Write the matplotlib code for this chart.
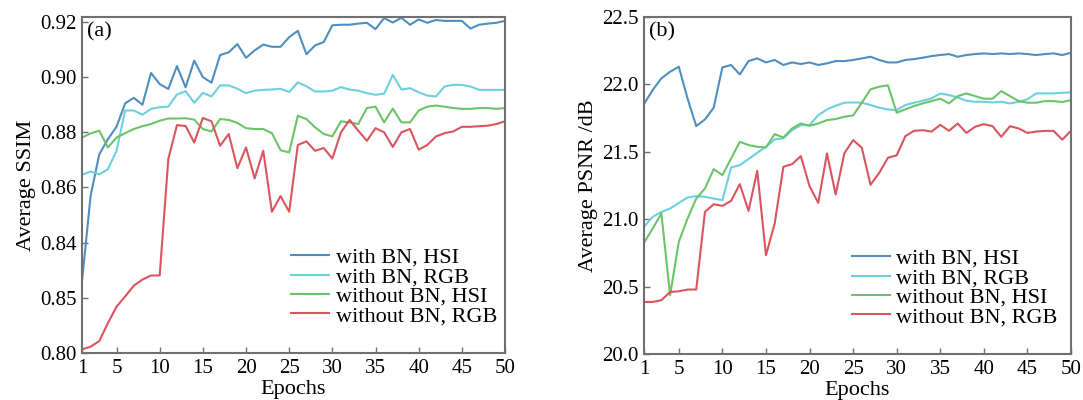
#!/usr/bin/env python3
# coding: utf-8
"""SSIM / PSNR 随 epoch 变化的对比图（有无 BN，HSI / RGB）"""

import matplotlib
matplotlib.use('Agg')
import matplotlib.pyplot as plt
import numpy as np

plt.rcParams['font.family'] = ['Liberation Serif', 'DejaVu Serif']

epochs = np.arange(1, 51)
labels = ['with BN, HSI', 'with BN, RGB', 'without BN, HSI', 'without BN, RGB']
colors = ['#4f8fc0', '#6dd0dd', '#6cc46a', '#da5560']

# (a) Average SSIM
ssim_bn_hsi = [0.826, 0.857, 0.872, 0.8775, 0.882, 0.8905, 0.8925, 0.890, 0.9015, 0.8975,
               0.8957, 0.904, 0.8963, 0.906, 0.900, 0.898, 0.908, 0.909, 0.912, 0.907,
               0.9097, 0.9118, 0.911, 0.911, 0.9145, 0.9168, 0.9083, 0.9115, 0.9127, 0.9188,
               0.919, 0.919, 0.9194, 0.9197, 0.9174, 0.9214, 0.9198, 0.9215, 0.919, 0.9209,
               0.9197, 0.9207, 0.9204, 0.9204, 0.9204, 0.9176, 0.919, 0.9194, 0.9197, 0.9204]
ssim_bn_rgb = [0.8646, 0.8658, 0.8648, 0.8666, 0.8733, 0.8879, 0.8879, 0.8864, 0.8885, 0.8891,
               0.8893, 0.8937, 0.8949, 0.8907, 0.8943, 0.893, 0.897, 0.897, 0.8958, 0.8942,
               0.8951, 0.8954, 0.8955, 0.8958, 0.8946, 0.8981, 0.8967, 0.8948, 0.8948, 0.8951,
               0.8964, 0.8955, 0.8951, 0.8942, 0.8936, 0.894, 0.9008, 0.8955, 0.896, 0.8945,
               0.8933, 0.893, 0.8966, 0.8972, 0.8972, 0.8966, 0.8954, 0.8954, 0.8954, 0.8954]
ssim_nobn_hsi = [0.8781, 0.8796, 0.8806, 0.8745, 0.8781, 0.8797, 0.8812, 0.8822, 0.883, 0.8842,
                 0.885, 0.885, 0.8851, 0.8846, 0.8812, 0.8803, 0.8848, 0.8845, 0.8834, 0.8815,
                 0.8812, 0.8812, 0.8797, 0.8735, 0.8727, 0.886, 0.8848, 0.8818, 0.8794, 0.8785,
                 0.884, 0.8836, 0.883, 0.8888, 0.8893, 0.8836, 0.8886, 0.8836, 0.8836, 0.8879,
                 0.8893, 0.8897, 0.8893, 0.8888, 0.8885, 0.8885, 0.8888, 0.8888, 0.8885, 0.8888]
ssim_nobn_rgb = [0.8013, 0.8023, 0.8043, 0.8108, 0.8168, 0.8205, 0.8244, 0.8266, 0.8281, 0.8281,
                 0.8703, 0.8826, 0.8823, 0.8763, 0.8852, 0.884, 0.8751, 0.8794, 0.867, 0.8745,
                 0.8633, 0.8733, 0.8512, 0.8569, 0.8512, 0.8754, 0.8767, 0.8733, 0.8743, 0.8705,
                 0.880, 0.8845, 0.8806, 0.8769, 0.8815, 0.880, 0.8747, 0.880, 0.8812, 0.8737,
                 0.8754, 0.8785, 0.8797, 0.8803, 0.882, 0.882, 0.8822, 0.8824, 0.883, 0.884]

# (b) Average PSNR / dB
psnr_bn_hsi = [21.854, 21.958, 22.045, 22.094, 22.131, 21.896, 21.691, 21.74, 21.827, 22.126,
               22.144, 22.074, 22.173, 22.193, 22.163, 22.181, 22.144, 22.163, 22.151, 22.163,
               22.144, 22.156, 22.173, 22.173, 22.181, 22.193, 22.205, 22.181, 22.163, 22.163,
               22.181, 22.188, 22.198, 22.21, 22.218, 22.225, 22.205, 22.218, 22.225, 22.23,
               22.225, 22.23, 22.225, 22.23, 22.225, 22.218, 22.225, 22.23, 22.218, 22.235]
psnr_bn_rgb = [20.943, 21.017, 21.054, 21.079, 21.121, 21.161, 21.171, 21.166, 21.153, 21.141,
               21.384, 21.401, 21.446, 21.493, 21.537, 21.592, 21.6, 21.661, 21.698, 21.698,
               21.772, 21.814, 21.842, 21.864, 21.866, 21.864, 21.847, 21.827, 21.814, 21.809,
               21.847, 21.864, 21.879, 21.896, 21.933, 21.921, 21.903, 21.879, 21.871, 21.871,
               21.866, 21.871, 21.859, 21.871, 21.889, 21.933, 21.933, 21.933, 21.938, 21.941]
psnr_nobn_hsi = [20.824, 20.931, 21.042, 20.436, 20.832, 21.005, 21.153, 21.228, 21.371, 21.327,
                 21.45, 21.574, 21.55, 21.537, 21.532, 21.631, 21.606, 21.673, 21.71, 21.693,
                 21.71, 21.735, 21.743, 21.76, 21.77, 21.864, 21.963, 21.983, 21.993, 21.79,
                 21.815, 21.84, 21.859, 21.876, 21.894, 21.859, 21.913, 21.933, 21.913, 21.894,
                 21.894, 21.95, 21.913, 21.876, 21.864, 21.864, 21.876, 21.876, 21.869, 21.884]
psnr_nobn_rgb = [20.386, 20.386, 20.399, 20.46, 20.465, 20.478, 20.478, 21.054, 21.111, 21.099,
                 21.136, 21.26, 21.062, 21.359, 20.733, 20.968, 21.389, 21.408, 21.468, 21.245,
                 21.121, 21.488, 21.183, 21.49, 21.587, 21.53, 21.255, 21.344, 21.456, 21.474,
                 21.616, 21.656, 21.66, 21.65, 21.7, 21.656, 21.71, 21.64, 21.686, 21.705,
                 21.69, 21.611, 21.69, 21.673, 21.64, 21.65, 21.655, 21.655, 21.59, 21.656]

ssim_ticks = [0.80, 0.82, 0.84, 0.86, 0.88, 0.90, 0.92]
ssim_ticklabels = ['0.80', '0.85', '0.84', '0.86', '0.88', '0.90', '0.92']
psnr_ticks = [20.0, 20.5, 21.0, 21.5, 22.0, 22.5]
xticks = [1, 5, 10, 15, 20, 25, 30, 35, 40, 45, 50]

FS = 15       # 刻度
FS_LAB = 16   # 轴标题、图例
SPINE = '#707070'


def style_axes(ax):
    for s in ax.spines.values():
        s.set_color(SPINE)
        s.set_linewidth(1.5)
    ax.tick_params(direction='in', length=4, width=1.0, color=SPINE,
                   labelsize=FS, pad=4)
    ax.set_xlim(1, 50)
    ax.set_xticks(xticks)
    ax.set_xlabel('Epochs', fontsize=FS_LAB, labelpad=2)


def draw(ax, series, tag, legend_x):
    for ys, lab, c in zip(series, labels, colors):
        ax.plot(epochs, ys, color=c, lw=1.5, label=lab)
    ax.text(0.012, 0.985, tag, transform=ax.transAxes, fontsize=FS_LAB,
            ha='left', va='top')
    ax.legend(loc='lower right', frameon=False, fontsize=FS_LAB,
              handlelength=1.7, handletextpad=0.3, labelspacing=-0.05,
              borderaxespad=0.2, bbox_to_anchor=(legend_x, 0.04))


fig = plt.figure(figsize=(10.83, 4.0), dpi=100)
ax1 = fig.add_axes([0.0757, 0.1175, 0.3906, 0.84])
ax2 = fig.add_axes([0.5946, 0.115, 0.3943, 0.8425])

draw(ax1, [ssim_bn_hsi, ssim_bn_rgb, ssim_nobn_hsi, ssim_nobn_rgb], '(a)', 1.013)
style_axes(ax1)
ax1.set_ylim(0.80, 0.9218)
ax1.set_yticks(ssim_ticks)
ax1.set_yticklabels(ssim_ticklabels)
ax1.set_ylabel('Average SSIM', fontsize=FS_LAB, labelpad=3)

draw(ax2, [psnr_bn_hsi, psnr_bn_rgb, psnr_nobn_hsi, psnr_nobn_rgb], '(b)', 1.0)
style_axes(ax2)
ax2.set_ylim(20.0, 22.5)
ax2.set_yticks(psnr_ticks)
ax2.set_yticklabels([f'{v:.1f}' for v in psnr_ticks])
ax2.set_ylabel('Average PSNR /dB', fontsize=FS_LAB, labelpad=3)

fig.savefig('out.png', dpi=100)
